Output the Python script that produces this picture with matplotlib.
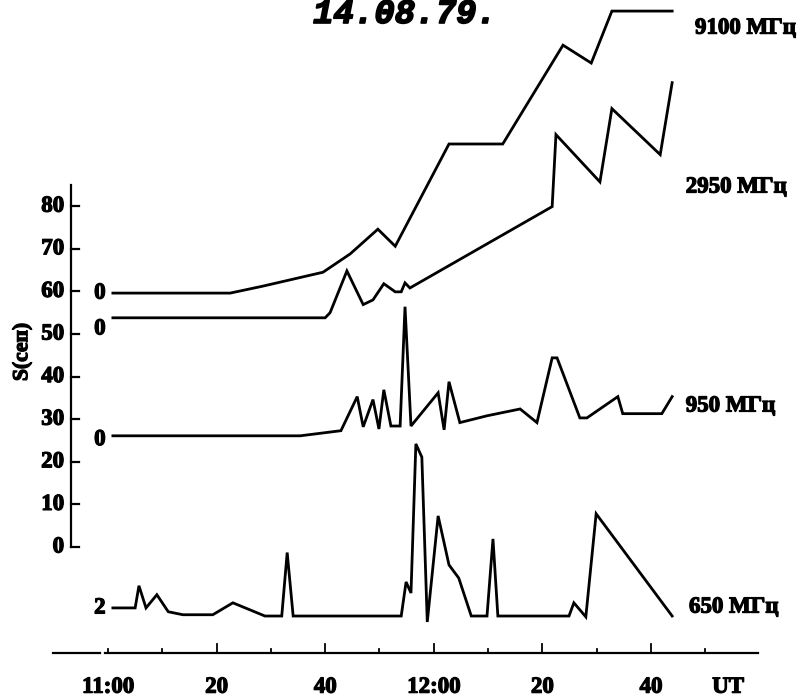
import matplotlib.pyplot as plt
import matplotlib.patheffects as pe

# time in minutes after 11:00 UT, flux above each curve's zero mark (s.f.u.)
t_9100 = [0.9, 22.5, 28.4, 33.5, 39.6, 44.6, 49.7, 52.9, 62.8, 72.7, 83.8, 89.0, 92.8, 103.9]
s_9100 = [0, 0, 1.6, 3.1, 4.9, 9.2, 15.0, 11.0, 35.0, 35.0, 58.2, 54.0, 66.2, 66.2]

t_2950 = [0.9, 40.0, 40.9, 44.0, 47.0, 48.8, 50.8, 52.9, 54.0, 54.7, 55.6,
          81.8, 82.5, 90.6, 92.8, 101.7, 103.9]
s_2950 = [0, 0, 1.2, 11.0, 3.1, 4.2, 8.0, 6.1, 6.1, 8.2, 7.0,
          26.1, 43.0, 31.9, 49.1, 38.3, 55.2]

t_950 = [0.9, 35.4, 42.9, 45.9, 47.0, 48.8, 49.9, 50.8, 52.1, 53.8, 54.7, 55.8,
         60.8, 61.9, 62.8, 64.8, 69.8, 75.9, 79.0, 81.8, 82.7, 86.9, 88.2,
         93.9, 94.8, 102.0, 103.9]
s_950 = [0, 0, 1.2, 9.2, 2.1, 8.5, 1.6, 10.8, 2.3, 2.3, 30.3, 2.3,
         10.1, 1.4, 12.7, 3.1, 4.7, 6.3, 3.1, 18.3, 18.3, 4.2, 4.2,
         9.2, 5.2, 5.2, 9.2]

t_650 = [0.9, 5.0, 5.7, 7.0, 9.0, 11.1, 13.8, 19.3, 23.0, 28.9, 32.0, 33.0, 34.1,
         54.0, 54.9, 55.8, 56.7, 57.8, 58.8, 60.8, 62.8, 64.6, 66.9, 69.8,
         70.9, 71.8, 84.9, 85.8, 88.0, 89.9, 103.9]
s_650 = [0, 0, 5.2, 0, 3.1, -0.9, -1.6, -1.6, 1.2, -1.9, -1.9, 13.0, -1.9,
         -1.9, 6.1, 3.5, 38.5, 35.4, -3.3, 21.6, 10.1, 7.0, -1.9, -1.9,
         16.2, -1.9, -1.9, 1.2, -2.1, 22.1, -1.9]

freq_labels = ['9100 МГц', '2950 МГц', '950 МГц', '650 МГц']
zero_labels = ['0', '0', '0', '2']
y_ticks = [0, 10, 20, 30, 40, 50, 60, 70, 80]
x_ticks = [0, 20, 40, 60, 80, 100]
x_labels = ['11:00', '20', '40', '12:00', '20', '40']

# where each curve sits on the S scale (stacked)
base = [59.6, 53.8, 26.1, -14.3]
zero_pos = [59.6, 51.2, 25.2, -14.3]
label_pos = [(108.1, 121.8), (106.4, 84.5), (106.4, 33.1), (107.0, -14.1)]

# scanned print looks heavier than the plain bold face
heavy = [pe.withStroke(linewidth=0.9, foreground='black')]
serif = {'family': 'Liberation Serif', 'weight': 'bold', 'size': 16.5,
         'path_effects': heavy}

fig = plt.figure(figsize=(7.99, 6.97), dpi=100)
ax = fig.add_axes([0, 0, 1, 1])
ax.set_xlim(-19.89, 127.26)
ax.set_ylim(-35.21, 128.40)
ax.axis('off')

curves = [(t_9100, s_9100), (t_2950, s_2950), (t_950, s_950), (t_650, s_650)]
for i, (t, s) in enumerate(curves):
    ax.plot(t, [v + base[i] for v in s], color='black', lw=2.0,
            solid_joinstyle='miter')
    ax.text(-1.5, zero_pos[i], zero_labels[i], ha='center', va='center', **serif)
    ax.text(label_pos[i][0], label_pos[i][1], freq_labels[i], ha='left',
            va='center', **serif)

# S axis
ax.plot([-6.81, -6.81], [0, 85], color='black', lw=1.6)
for v in y_ticks:
    ax.plot([-6.81, -5.3], [v, v], color='black', lw=1.6)
    ax.text(-8.1, v, str(v), ha='right', va='center', **serif)
ax.text(-15.8, 45.8, 'S(сеп)', rotation=90, ha='center', va='center',
        **dict(serif, size=15.5))

# time axis
ax.plot([-10.1, -1.5], [-24.9, -24.9], color='black', lw=1.6)
ax.plot([-0.5, 119.7], [-24.9, -24.9], color='black', lw=1.6)
for m in range(0, 120, 10):
    h = 2.1 if m in x_ticks[1:] else 0.9
    ax.plot([m, m], [-24.9, -24.9 + h], color='black', lw=1.3)
for m, lab in zip(x_ticks, x_labels):
    ax.text(m, -32.9, lab, ha='center', va='center', **serif)
ax.text(114.2, -32.9, 'UT', ha='center', va='center', **serif)

ax.text(37.75, 123.0, '14.08.79.', ha='left', va='baseline',
        family='Liberation Mono', weight='bold', style='italic', size=24.5,
        path_effects=[pe.withStroke(linewidth=1.2, foreground='black')])

fig.savefig('out.png', dpi=100)
